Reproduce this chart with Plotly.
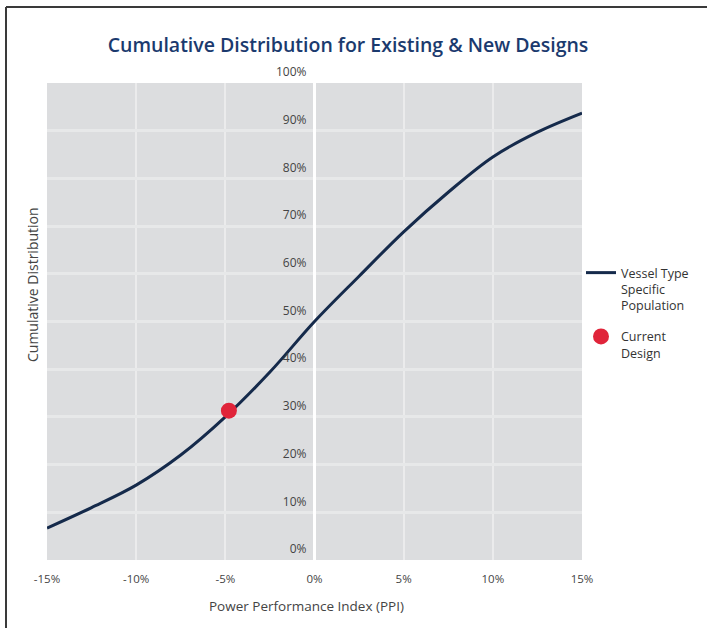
import plotly.graph_objects as go

# Data
ppi_x = [-15, -12.5, -10, -7.5, -5, -2.5, 0, 2.5, 5, 7.5, 10, 12.5, 15]
cum_y = [0.067, 0.11, 0.157, 0.22, 0.30, 0.394, 0.50, 0.595, 0.688, 0.771, 0.845, 0.897, 0.937]
design_x = [-4.8]
design_y = [0.313]
x_ticks = [-15, -10, -5, 0, 5, 10, 15]
x_tick_text = ["-15%", "-10%", "-5%", "0%", "5%", "10%", "15%"]
y_ticks = [0, 0.1, 0.2, 0.3, 0.4, 0.5, 0.6, 0.7, 0.8, 0.9, 1.0]
y_tick_text = ["0%", "10%", "20%", "30%", "40%", "50%", "60%", "70%", "80%", "90%", "100%"]

W, H = 707, 628
L, R, T, B = 47, 125, 83, 68
pw, ph = W - L - R, H - T - B

FONT = "Open Sans"

fig = go.Figure()
fig.add_trace(go.Scatter(
    x=ppi_x, y=cum_y, mode="lines", line=dict(color="#152a4b", width=3, shape="spline"),
    name="Vessel Type<br>Specific<br>Population", legendgroup="a"))
fig.add_trace(go.Scatter(
    x=design_x, y=design_y, mode="markers", marker=dict(color="#e0243a", size=16),
    name="Current<br>Design", legendgroup="b"))

def px_x(p):
    return (p - L) / pw

def px_y(p):
    return (H - B - p) / ph

shapes = [
    dict(type="line", xref="paper", yref="paper", x0=px_x(6), x1=px_x(W + 5), y0=px_y(7), y1=px_y(7),
         line=dict(color="#3a3a3a", width=2)),
    dict(type="line", xref="paper", yref="paper", x0=px_x(6), x1=px_x(6), y0=px_y(7), y1=px_y(H + 5),
         line=dict(color="#3a3a3a", width=2)),
]

fig.update_layout(
    width=W, height=H,
    margin=dict(l=L, r=R, t=T, b=B, autoexpand=False),
    paper_bgcolor="white",
    plot_bgcolor="#dcdddf",
    font=dict(family=FONT, color="#444444", size=11),
    title=dict(text="Cumulative Distribution for Existing & New Designs",
               x=348 / W, xref="container", xanchor="center",
               y=1 - 45 / H, yref="container", yanchor="middle",
               font=dict(family=FONT, size=19.5, color="#1b3a6e", weight=600)),
    xaxis=dict(range=[-15, 15], tickvals=x_ticks, ticktext=x_tick_text,
               showgrid=True, gridcolor="#ebebec", gridwidth=1.5,
               zeroline=True, zerolinecolor="#ffffff", zerolinewidth=3,
               showline=False, ticks="", ticklabelstandoff=10,
               tickfont=dict(size=11.5, color="#444444"),
               fixedrange=True),
    yaxis=dict(range=[0, 1], tickvals=y_ticks, ticktext=y_tick_text,
               anchor="free", position=0.5, side="left",
               showgrid=True, gridcolor="#e7e8e9", gridwidth=2.5,
               zeroline=False, showline=False, ticks="",
               ticklabelshift=-11, ticklabelstandoff=8,
               tickfont=dict(size=12, color="#444444"),
               fixedrange=True),
    legend=dict(x=px_x(581), y=px_y(258), xanchor="left", yanchor="top",
                font=dict(size=12.5, color="#333333"), tracegroupgap=12,
                itemwidth=30, valign="top",
                bgcolor="rgba(0,0,0,0)"),
    annotations=[
        dict(text="Cumulative Distribution", textangle=-90, xref="paper", yref="paper",
             x=px_x(32), y=px_y(285), xanchor="center", yanchor="middle", showarrow=False,
             font=dict(size=14, color="#444444")),
        dict(text="Power Performance Index (PPI)", xref="paper", yref="paper",
             x=px_x(306), y=px_y(606), xanchor="center", yanchor="middle", showarrow=False,
             font=dict(size=13.5, color="#444444")),
    ],
    shapes=shapes,
)

fig.write_html("out.html")
